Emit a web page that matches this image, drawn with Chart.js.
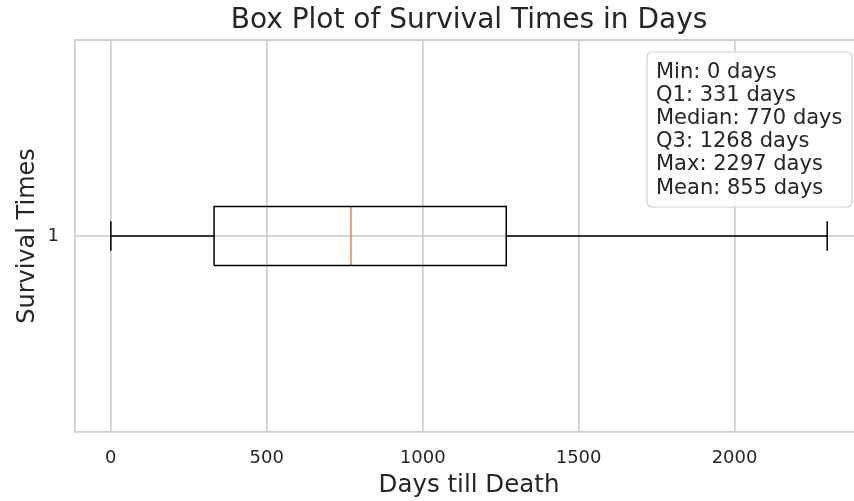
<!DOCTYPE html>
<html>
<head>
<meta charset="utf-8">
<script src="https://cdn.jsdelivr.net/npm/chart.js@4.4.1/dist/chart.umd.min.js"></script>
<style>
    html, body { margin: 0; padding: 0; background: #ffffff; overflow: hidden; }
    #wrap { width: 864px; height: 501px; }
</style>
</head>
<body>
<div id="wrap"><canvas id="boxChart" width="864" height="501"></canvas></div>
<script>
// --- data ---
const categories = ['1'];
const statLabels = ['Min', 'Q1', 'Median', 'Q3', 'Max', 'Mean'];
const statValues = [0, 331, 770, 1268, 2297, 855];
const xTicks = [0, 500, 1000, 1500, 2000];
const yTicks = [1];

const TEXT = '#262626';
const GRID = '#d0d0d0';
const FONT = "'DejaVu Sans', sans-serif";

function stat(name) {
    return statValues[statLabels.indexOf(name)];
}

function seg(points, color, width) {
    return {
        data: points,
        showLine: true,
        borderColor: color,
        borderWidth: width,
        pointRadius: 0,
        fill: false,
        borderCapStyle: 'butt',
        borderJoinStyle: 'miter'
    };
}

function buildDatasets() {
    const pos = 1;            // position of the only box
    const half = 0.15 / 2;    // matplotlib widths=0.15
    const cap = half / 2;
    const min = stat('Min'), q1 = stat('Q1'), med = stat('Median'), q3 = stat('Q3'), max = stat('Max');
    return [
        seg([{x: min, y: pos}, {x: q1, y: pos}], '#000000', 1.5),
        seg([{x: q3, y: pos}, {x: max, y: pos}], '#000000', 1.5),
        seg([{x: min, y: pos - cap}, {x: min, y: pos + cap}], '#000000', 1.5),
        seg([{x: max, y: pos - cap}, {x: max, y: pos + cap}], '#000000', 1.5),
        seg([
            {x: q1, y: pos - half}, {x: q3, y: pos - half}, {x: q3, y: pos + half},
            {x: q1, y: pos + half}, {x: q1, y: pos - half}
        ], '#000000', 1.5),
        seg([{x: med, y: pos - half}, {x: med, y: pos + half}], '#dd8452', 1.5)
    ];
}

// top spine (seaborn whitegrid keeps it)
const topSpine = {
    id: 'topSpine',
    beforeDatasetsDraw(chart) {
        const {ctx, chartArea} = chart;
        ctx.save();
        ctx.strokeStyle = GRID;
        ctx.lineWidth = 1.8;
        ctx.beginPath();
        ctx.moveTo(chartArea.left, chartArea.top);
        ctx.lineTo(chartArea.right, chartArea.top);
        ctx.stroke();
        ctx.restore();
    }
};

// summary text box in the upper right corner
const statsBox = {
    id: 'statsBox',
    afterDraw(chart) {
        const {ctx, chartArea} = chart;
        const lines = statLabels.map((l, i) => `${l}: ${statValues[i]} days`);
        const right = chartArea.right - 11;
        const left = right - 205;
        const top = chartArea.top + 12;
        const h = 155;
        ctx.save();
        ctx.beginPath();
        ctx.roundRect(left, top, right - left, h, 5);
        ctx.fillStyle = 'rgba(255,255,255,0.8)';
        ctx.fill();
        ctx.strokeStyle = '#cfcfcf';
        ctx.lineWidth = 1.2;
        ctx.stroke();
        ctx.fillStyle = TEXT;
        ctx.font = `21px ${FONT}`;
        ctx.textBaseline = 'alphabetic';
        ctx.textAlign = 'left';
        lines.forEach((t, i) => {
            ctx.fillText(t, left + 9, top + 25.5 + i * 23.2);
        });
        ctx.restore();
    }
};

function renderBoxChart() {
    const ctx = document.getElementById('boxChart')?.getContext('2d');
    if (!ctx) return;
    new Chart(ctx, {
        type: 'scatter',
        data: { labels: categories, datasets: buildDatasets() },
        plugins: [topSpine, statsBox],
        options: {
            responsive: false,
            animation: false,
            layout: { padding: { left: 0, right: 1, top: 0, bottom: 0 } },
            plugins: {
                legend: { display: false },
                tooltip: { enabled: false },
                title: {
                    display: true,
                    text: 'Box Plot of Survival Times in Days',
                    color: TEXT,
                    fullSize: false,
                    font: { family: FONT, size: 28, weight: 'normal' },
                    padding: { top: 3.9, bottom: 2.5 }
                }
            },
            scales: {
                x: {
                    type: 'linear',
                    min: -114.85,
                    max: 2411.85,
                    afterBuildTicks: (scale) => { scale.ticks = xTicks.map(v => ({ value: v })); },
                    afterFit: (scale) => { scale.height = 69; },
                    grid: { color: GRID, lineWidth: 1.8, drawTicks: false },
                    border: { display: true, color: GRID, width: 1.8 },
                    ticks: {
                        color: TEXT,
                        padding: 16,
                        maxRotation: 0,
                        font: { family: FONT, size: 18 },
                        callback: (v) => String(v)
                    },
                    title: {
                        display: true,
                        text: 'Days till Death',
                        color: TEXT,
                        font: { family: FONT, size: 24.5 },
                        padding: { top: 0, bottom: 0.3 }
                    }
                },
                y: {
                    type: 'linear',
                    min: 0.5,
                    max: 1.5,
                    afterBuildTicks: (scale) => { scale.ticks = yTicks.map(v => ({ value: v })); },
                    afterFit: (scale) => { scale.width = 75; },
                    grid: { color: GRID, lineWidth: 1.8, drawTicks: false },
                    border: { display: true, color: GRID, width: 1.8 },
                    ticks: {
                        color: TEXT,
                        padding: 16,
                        font: { family: FONT, size: 18 },
                        callback: (v) => categories[yTicks.indexOf(v)] ?? ''
                    },
                    title: {
                        display: true,
                        text: 'Survival Times',
                        color: TEXT,
                        font: { family: FONT, size: 24 },
                        padding: { top: 13.5, bottom: 0 }
                    }
                }
            }
        }
    });
}

document.addEventListener('DOMContentLoaded', function() {
    renderBoxChart();
});
</script>
</body>
</html>
